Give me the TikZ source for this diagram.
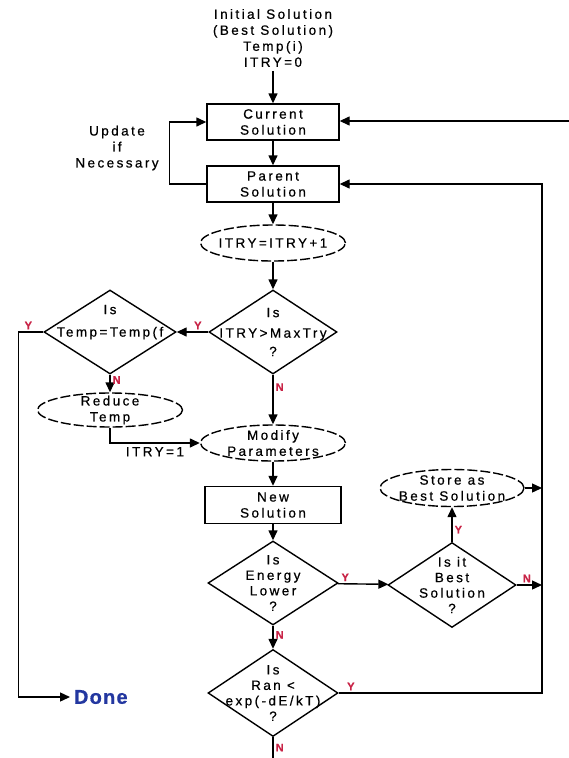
\documentclass[tikz,border=0pt]{standalone}
\usepackage{fontspec}
\setmainfont{Liberation Sans}[LetterSpace=18,FakeBold=0.6]
\usetikzlibrary{arrows.meta,shapes.geometric}
\definecolor{ynred}{RGB}{200,35,70}
\definecolor{doneblue}{RGB}{35,55,160}
\tikzset{
  solbox/.style={draw,minimum width=132pt,minimum height=36pt,inner sep=0pt,align=center},
  oval/.style={draw,ellipse,dash pattern=on 10pt off 3pt,minimum width=145pt,minimum height=36pt,inner xsep=-40pt,inner ysep=-8pt,align=center},
  query/.style={draw,diamond,minimum width=130pt,minimum height=84pt,inner xsep=-55pt,inner ysep=-25pt,align=center,font=\fontsize{13.5}{15.5}\selectfont},
  flow/.style={-{Triangle[length=10pt,width=9pt]}},
  yn/.style={text=ynred,font=\fontsize{11}{12}\selectfont\bfseries,inner sep=2pt}
}

\begin{document}
\begin{tikzpicture}[x=1pt,y=-1pt,line width=1.4pt,font=\fontsize{13.5}{16}\selectfont]
\useasboundingbox (0,0) rectangle (569,758);
% main column
\node[align=center] (init) at (273,38) {Initial Solution\\(Best Solution)\\Temp(i)\\ITRY=0};
\node[solbox] (cur) at (273,122) {Current\\Solution};
\node[solbox] (par) at (273,184) {Parent\\Solution};
\node[oval] (itry) at (273,243) {ITRY=ITRY+1};
\node[query,minimum width=128pt] (maxtry) at (273,332) {Is\\[5pt]ITRY>MaxTry\\[3pt]?};
\node[oval] (modify) at (273,443) {Modify\\Parameters};
\node[solbox,minimum width=136pt,minimum height=37pt] (newsol) at (273,505) {New\\Solution};
\node[query] (energy) at (273,583) {Is\\Energy\\Lower\\?};
\node[query,minimum height=87pt] (ran) at (273,693) {Is\\Ran <\\exp(-dE/kT)\\?};
% left branch
\node[align=center] (upd) at (117,148) {Update\\if\\Necessary};
\node[query,minimum width=132pt] (temp) at (110,332) {Is\\[7pt]Temp=Temp(f\\[7pt]\mbox{}};
\node[oval,minimum height=34pt] (reduce) at (110,410) {Reduce\\Temp};
\node[anchor=west,text=doneblue,font=\fontsize{20}{22}\selectfont\bfseries\addfontfeature{LetterSpace=6}] (done) at (70,697) {Done};
% right branch
\node[query,minimum width=128pt,minimum height=85pt] (best) at (452,585) {Is it\\Best\\Solution\\?};
\node[oval,minimum width=144pt,minimum height=37pt] (store) at (452,488) {Store as\\Best Solution};
\coordinate (rail) at (542,184);
\coordinate (rin) at (569,121);
\coordinate (out) at (273,758);

\draw[flow] (init) -- (cur);
\draw[flow] (cur) -- (par);
\draw[flow] (par.west) -- ++(-37,0) |- (cur.west);
\draw[flow] (rin) -- (cur.east |- rin);
\draw[flow] (par) -- (itry);
\draw[flow] (itry) -- (maxtry);
\draw[flow] (maxtry) -- node[yn,above,pos=.33]{Y} (temp);
\draw[flow] (maxtry) -- node[yn,right,pos=.25]{N} (modify);
\draw[flow] (temp.west) -- ++(-25,0) node[yn,above,pos=.6]{Y} |- (done.west);
\draw[flow] (temp) -- node[yn,right,pos=.3]{N} (reduce);
\draw[flow] (reduce.south) |- node[pos=.75,below]{ITRY=1} (modify.west);
\draw[flow] (modify) -- (newsol);
\draw[flow] (newsol) -- (energy);
\draw[flow] (energy) -- node[yn,above,pos=.15]{Y} (best);
\draw[flow] (energy) -- node[yn,right,pos=.4]{N} (ran);
\draw[flow] (best) -- node[yn,right,pos=.35]{Y} (store);
\draw[flow] (best.east) -- node[yn,above,pos=.4]{N} (best.east -| rail);
\draw[flow] (store.east) -- (store.east -| rail);
\draw[flow] (ran.east) -- node[yn,above,pos=.06]{Y} (ran.east -| rail) -- (rail) -- (par.east);
\draw (ran.south) -- node[yn,right,pos=.5]{N} (out);
\end{tikzpicture}
\end{document}
